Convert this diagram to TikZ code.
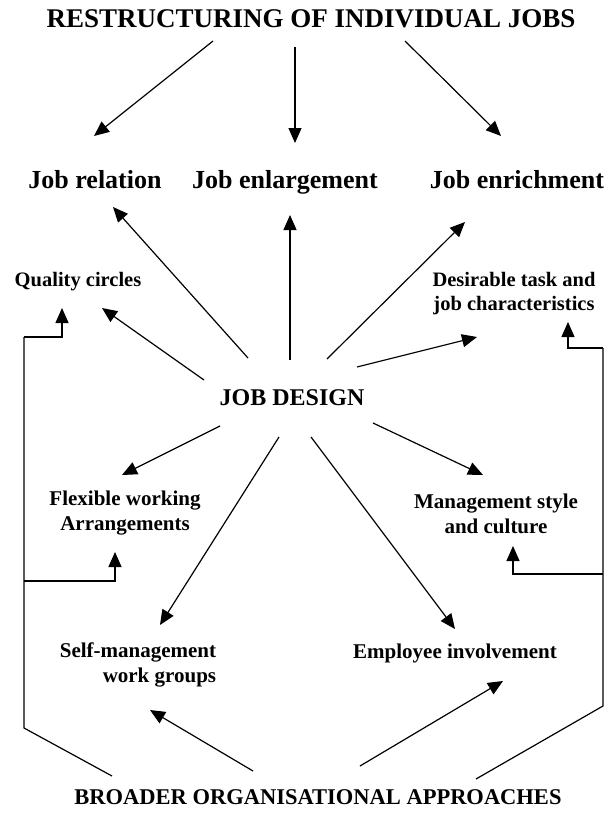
\documentclass[tikz,border=0pt]{standalone}
\usepackage{fontspec}
\setmainfont{Liberation Serif}
\usetikzlibrary{arrows.meta,calc,positioning}

\begin{document}
\begin{tikzpicture}[x=1pt,y=-1pt,line width=1.2pt,
	>={Triangle[length=15pt,width=13pt]},
	lbl/.style={font=\bfseries\fontsize{21}{25}\selectfont, align=center, inner sep=0pt},
	head/.style={font=\bfseries\fontsize{26}{30}\selectfont, inner sep=0pt, text height=18pt, text depth=6pt}]

	\useasboundingbox (0,0) rectangle (613,816);

	\node[head,font=\bfseries\fontsize{27}{30}\selectfont] (top) at (311,22) {RESTRUCTURING OF INDIVIDUAL JOBS};
	\node[head] (rel) at (95,182) {Job relation};
	\node[head] (enl) at (285,182) {Job enlargement};
	\node[head] (enr) at (517,182) {Job enrichment};

	\node[lbl,font=\bfseries\fontsize{20.5}{24}\selectfont] (qual) at (78,282) {Quality circles};
	\node[lbl,font=\bfseries\fontsize{20.5}{24}\selectfont] (des) at (514,294) {Desirable task and\\job characteristics};
	\node[head,font=\bfseries\fontsize{24}{28}\selectfont] (jd) at (292,399) {JOB DESIGN};
	\node[lbl] (flex) at (125,513) {Flexible working\\Arrangements};
	\node[lbl] (mgmt) at (496,514) {Management style\\and culture};
	\node[lbl,align=right] (self) at (138,665) {Self-management\\work groups};
	\node[lbl] (emp) at (455,653) {Employee involvement};
	\node[head,font=\bfseries\fontsize{22.5}{26}\selectfont] (bot) at (318,798) {BROADER ORGANISATIONAL APPROACHES};

	% restructuring
	\draw[->] ($(top)+(-98,19)$) -- ($(rel)+(-1,-46)$);
	\draw[->] ($(top)+(-16,25)$) -- ($(enl)+(10,-39)$);
	\draw[->] ($(top)+(94,19)$) -- ($(enr)+(-16,-46)$);

	% job design
	\draw[->] ($(jd)+(-44,-41)$) -- ($(rel)+(18,25)$);
	\draw[->] ($(jd)+(-2,-39)$) -- ($(enl)+(5,33)$);
	\draw[->] ($(jd)+(35,-40)$) -- ($(enr)+(-52,40)$);
	\draw[->] ($(jd)+(-88,-19)$) -- ($(qual)+(24,26)$);
	\draw[->] ($(jd)+(65,-32)$) -- ($(des)+(-37,43)$);
	\draw[->] ($(jd)+(-72,27)$) -- ($(flex)+(-3,-38)$);
	\draw[->] ($(jd)+(81,24)$) -- ($(mgmt)+(-13,-39)$);
	\draw[->] ($(jd)+(-13,38)$) -- ($(self)+(22,-40)$);
	\draw[->] ($(jd)+(19,38)$) -- ($(emp)+(0,-24)$);

	% broader approaches
	\coordinate (lt) at (24,337);
	\coordinate (lm) at (24,581);
	\coordinate (lb) at (24,728);
	\coordinate (rt) at (603,348);
	\coordinate (rm) at (603,574);
	\coordinate (rb) at (603,706);

	\draw (lt) -- (lb) -- ($(bot)+(-206,-22)$);
	\draw (rt) -- (rb) -- ($(bot)+(158,-19)$);
	\draw[->] (lt) -| ($(qual)+(-16,26)$);
	\draw[->] (lm) -| ($(flex)+(-10,39)$);
	\draw[->] (rt) -| ($(des)+(54,28)$);
	\draw[->] (rm) -| ($(mgmt)+(17,32)$);
	\draw[->] ($(bot)+(-65,-27)$) -- ($(self)+(12,45)$);
	\draw[->] ($(bot)+(42,-32)$) -- ($(emp)+(48,28)$);
\end{tikzpicture}
\end{document}
